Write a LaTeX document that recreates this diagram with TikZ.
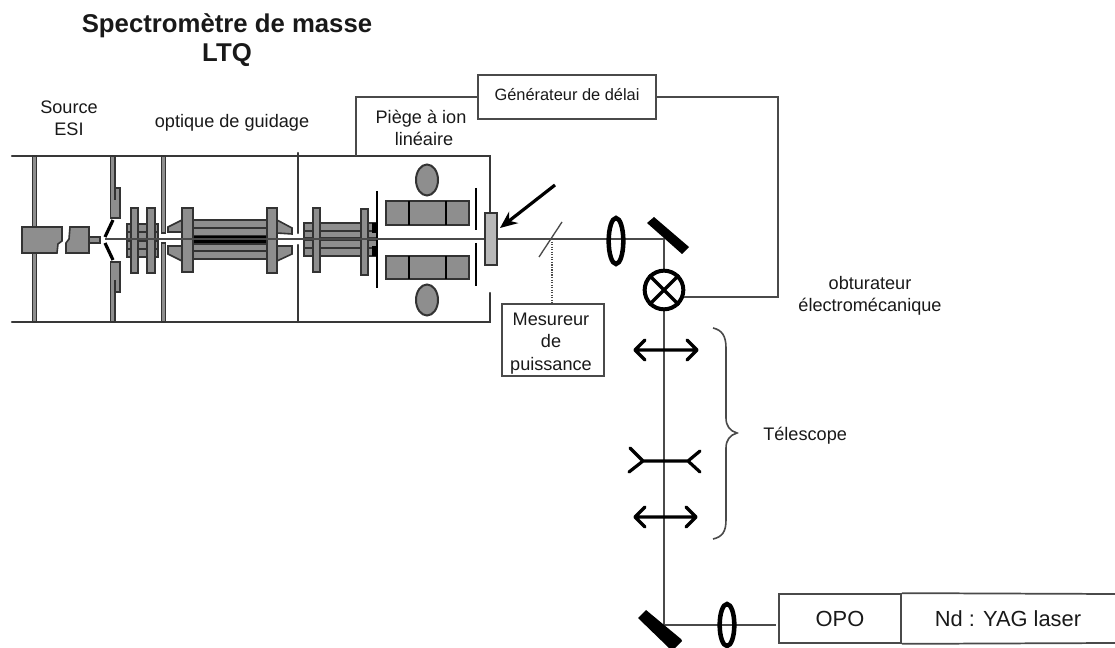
\documentclass[tikz,border=0pt]{standalone}
\usepackage{fontspec}
\setmainfont{Liberation Sans}
\usetikzlibrary{arrows.meta,shapes.geometric}
\definecolor{partgray}{HTML}{8E8E8E}
\definecolor{linegray}{HTML}{4A4A4A}
\tikzset{
  part/.style={draw=black!80,fill=partgray,line width=1.2pt},
  housing/.style={draw=black!78,line width=1.8pt,line cap=round},
  beam/.style={draw=linegray,line width=1.1pt},
  wire/.style={draw=linegray,line width=1.4pt},
  stopper/.style={draw=black,line width=2.2pt},
  optic/.style={draw=black,line width=2.4pt,line cap=round,line join=round},
  lensoval/.style={draw=black,line width=3.4pt,ellipse,inner sep=0pt,minimum width=11pt,minimum height=34.5pt},
  boxed/.style={draw=linegray,line width=1.3pt,fill=white,inner sep=0pt},
  lab/.style={font=\fontsize{13.6}{16.5}\selectfont,align=center,inner sep=0pt,text=black!90},
}
\begin{document}
\begin{tikzpicture}[x=0.75pt,y=-0.75pt]
\useasboundingbox (0,0) rectangle (1115,648);
% named points
\coordinate (bL) at (105,239);
\coordinate (bFold) at (664,239);
\coordinate (bDown) at (664,625);
\coordinate (bEnd) at (776,625);
\coordinate (split) at (552,239);
\coordinate (trapTop) at (356,156);
\coordinate (wireCorner) at (778,97);
% housing
\draw[housing] (12,156) -- (490,156) -- (490,213);
\draw[housing] (12,322) -- (490,322) -- (490,293);
\draw[housing] (298,153) -- (298,233);
\draw[housing] (298,245) -- (298,322);
% walls
\draw[part] (32.5,156) rectangle (36.5,227);
\draw[part] (32.5,253) rectangle (36.5,322);
\draw[part] (110.5,156) -- (115,156) -- (115,188) -- (120,188) -- (120,218) -- (110.5,218) -- cycle;
\draw[part] (110.5,322) -- (115,322) -- (115,292) -- (120,292) -- (120,262) -- (110.5,262) -- cycle;
\draw[draw=black!80,line width=1.1pt] (115,188) -- (115,200) (115,280) -- (115,292);
\draw[part] (161.5,156) rectangle (165.5,233);
\draw[part] (161.5,243) rectangle (165.5,322);
% source
\draw[part] (22,227) -- (62,227) -- (62,241) -- (58,244) -- (57,253) -- (22,253) -- cycle;
\draw[part] (70,227) -- (89,227) -- (89,253) -- (66,253) -- (66,243) -- (69,239) -- cycle;
\draw[part] (89,237) rectangle (100,243);
\draw[draw=black,line width=2.4pt] (113,220) -- (105,237);
\draw[draw=black,line width=2.4pt] (105,243) -- (113,260);
% first rods
\foreach \a/\b in {224/232,232/240,241/249,249/257}
  \draw[part,line width=1.5pt] (127,\a) rectangle (158,\b);
\draw[part] (131,208) rectangle (138,273);
\draw[part] (147,208) rectangle (155,273);
% guide
\foreach \a/\b in {220/228,228/236,244/251,251/259}
  \draw[part,line width=1.6pt] (190,\a) rectangle (270,\b);
\fill[black] (190,236) rectangle (270,243.5);
\draw[part] (168,227) -- (182,220) -- (182,232) -- (168,232) -- cycle;
\draw[part] (168,246) -- (182,246) -- (182,261) -- (168,254) -- cycle;
\draw[part] (292,228) -- (277,220) -- (277,233) -- (292,234) -- cycle;
\draw[part] (292,246) -- (277,246) -- (277,261) -- (292,254) -- cycle;
\draw[part] (182,208) rectangle (193,272);
\draw[part] (267,208) rectangle (277,273);
% second rods
\foreach \a/\b in {223/231,231/238,240/248,248/256}
  \draw[part,line width=1.5pt] (304,\a) rectangle (377,\b);
\fill[black] (372,223) rectangle (377,233);
\fill[black] (372,246) rectangle (377,256);
\draw[part] (313,208) rectangle (320,272);
\draw[part] (361,209) rectangle (368,275);
\draw[stopper] (377,191) -- (377,288);
% trap
\draw[part] (386,201) rectangle (469,225);
\draw[part] (386,256) rectangle (469,279);
\draw[stopper] (409,201) -- (409,225) (446,201) -- (446,225);
\draw[stopper] (409,256) -- (409,279) (446,256) -- (446,279);
\draw[part,line width=1.5pt] (427,180) ellipse [x radius=11,y radius=15.5];
\draw[part,line width=1.5pt] (427,300) ellipse [x radius=11,y radius=15.5];
\draw[stopper] (476,188) -- (476,230);
\draw[stopper] (476,243) -- (476,286);
% beams
\draw[beam] (bL) -- (bFold) -- (bDown) -- (bEnd);
% window and arrow
\draw[part,fill=black!28] (485,213) rectangle (497,265);
\coordinate (arrS) at (555,185);
\coordinate (arrE) at (500,228);
\draw[draw=black,line width=2.4pt,-{Stealth[length=13pt,width=11pt]}] (arrS) -- (arrE);
\coordinate (splitA) at (539,257);
\coordinate (splitB) at (562,222);
\draw[draw=linegray,line width=1pt] (splitA) -- (splitB);
% nodes
\node[boxed,minimum width=133.5pt,minimum height=33pt] (delay) at (567,97) {};
\node[lab,font=\fontsize{12.3}{15}\selectfont,anchor=base] (delayt) at (567,101) {Générateur de délai};
\node[boxed,minimum width=76.5pt,minimum height=54pt] (mes) at (553,340) {};
\draw[draw=linegray,line width=0.9pt,densely dotted] (split) -- (split |- mes.north);
\node[lab,anchor=base] (m1) at (551,326) {Mesureur};
\node[lab,anchor=base] (m2) at (551,348) {de};
\node[lab,anchor=base] (m3) at (551,371) {puissance};
\node[draw=black,line width=3pt,circle,inner sep=0pt,minimum size=29pt,fill=white] (shutter) at (664,290) {};
\draw[draw=black,line width=2.6pt] (shutter.45) -- (shutter.225) (shutter.135) -- (shutter.315);
\draw[wire] (trapTop) |- (delay.west);
\draw[wire] (delay.east |- wireCorner) -- (wireCorner) |- (shutter.-20);
% optics
\node[lensoval] (lensA) at (616,241) {};
\node[lensoval,minimum height=31.5pt] (lensB) at (727,625) {};
\fill[black] (647,223) -- (654,217) -- (689,247) -- (682,254) -- cycle;
\fill[black] (638,618) -- (646,610) -- (681,639) -- (682,641) -- (675,648) -- (669,648) -- cycle;
\draw[optic] (635,350) -- (697,350) (645,340) -- (635,350) -- (645,360) (687,340) -- (697,350) -- (687,360);
\draw[optic] (643,461) -- (688,461) (630,448) -- (643,461) -- (629,472) (700,451) -- (688,461) -- (700,472);
\draw[optic] (635,517) -- (696,517) (645,507) -- (635,517) -- (645,527) (686,507) -- (696,517) -- (686,527);
% brace
\draw[draw=linegray,line width=1.2pt] (713,328) .. controls (722,330) and (726,336) .. (726,348) -- (726,418) .. controls (726,426) and (730,431) .. (737,433) .. controls (730,435) and (726,440) .. (726,448) -- (726,520) .. controls (726,532) and (722,537) .. (713,539);
% source boxes
\node[boxed,minimum width=91.5pt,minimum height=36.75pt] (opo) at (840,618.5) {};
\draw[draw=linegray,line width=1.3pt] (opo.north east) -- (1115,594) (opo.south east) -- (1115,643);
\node[lab,font=\fontsize{16.4}{20}\selectfont,anchor=base] (opot) at (840,627) {OPO};
\node[lab,font=\fontsize{16.4}{20}\selectfont,anchor=base] (nd) at (1008,627) {Nd : YAG laser};
% labels
\node[lab,font=\fontsize{19.3}{21.75}\selectfont\bfseries,anchor=base] (t1) at (227,33) {Spectromètre de masse};
\node[lab,font=\fontsize{19.3}{21.75}\selectfont\bfseries,anchor=base] (t2) at (227,62) {LTQ};
\node[lab,anchor=base] (s1) at (69,114) {Source};
\node[lab,anchor=base] (s2) at (69,136) {ESI};
\node[lab,anchor=base] (g1) at (232,128) {optique de guidage};
\node[lab,anchor=base] (p1) at (421,124) {Piège à ion};
\node[lab,anchor=base] (p2) at (424,146) {linéaire};
\node[lab,anchor=base] (o1) at (870,290) {obturateur};
\node[lab,anchor=base] (o2) at (870,312) {électromécanique};
\node[lab,anchor=base west] (tel) at (763,441) {Télescope};
\end{tikzpicture}
\end{document}
